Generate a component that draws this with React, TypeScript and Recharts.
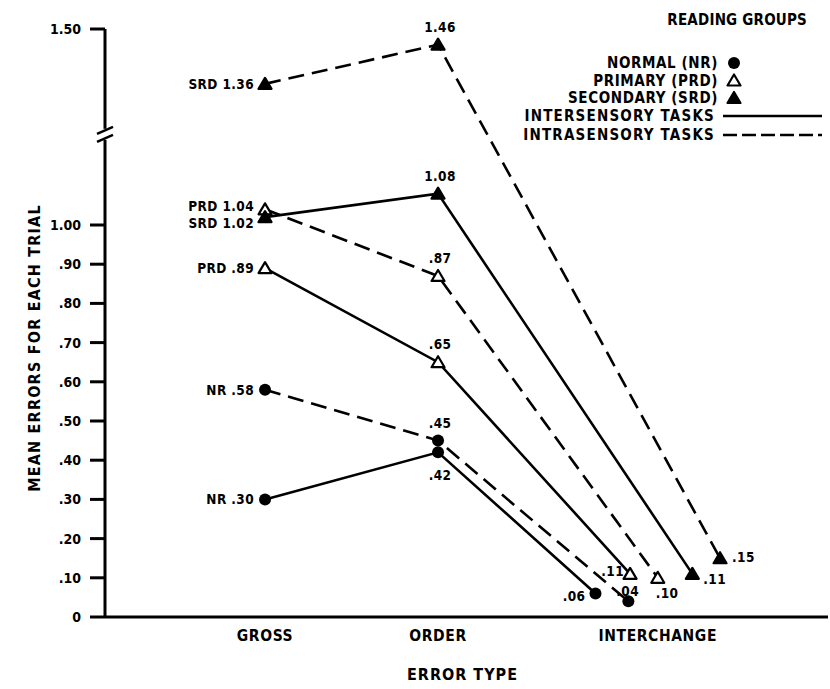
import { LineChart, Line, XAxis, YAxis, ReferenceDot, LabelList, Label } from 'recharts'

const FONT = "'DejaVu Sans Condensed', 'DejaVu Sans', sans-serif"

// error types along the x axis
const errorTypes = ['GROSS', 'ORDER', 'INTERCHANGE']

// mean errors per trial: GROSS, ORDER, INTERCHANGE
const nrInter = [0.3, 0.42, 0.06]
const nrIntra = [0.58, 0.45, 0.04]
const prdInter = [0.89, 0.65, 0.11]
const prdIntra = [1.04, 0.87, 0.1]
const srdInter = [1.02, 1.08, 0.11]
const srdIntra = [1.36, 1.46, 0.15]

// the interchange points are spread sideways in the original figure
const interchangeDodge = [-0.09, 0.1, 0.11, 0.27, 0.47, 0.63]

const yTicks = [0, 0.1, 0.2, 0.3, 0.4, 0.5, 0.6, 0.7, 0.8, 0.9, 1.0, 1.5]
const readingGroups = ['NORMAL (NR)', 'PRIMARY (PRD)', 'SECONDARY (SRD)']
const taskTypes = ['INTERSENSORY TASKS', 'INTRASENSORY TASKS']

const xDomain = [0.075, 4.254]
const xTicks = [1, 2, 3 + (Math.min(...interchangeDodge) + Math.max(...interchangeDodge)) / 2]

type Kind = 'circle' | 'open' | 'filled'
type Place = { anchor: 'start' | 'middle' | 'end'; dx: number; dy: number }

const left: Place = { anchor: 'end', dx: -11, dy: 5 }
const above: Place = { anchor: 'middle', dx: 2, dy: -13 }
const below: Place = { anchor: 'middle', dx: 2, dy: 28 }

const series: {
  key: string
  tag: string
  values: number[]
  kind: Kind
  dashed: boolean
  places: Place[]
}[] = [
  { key: 'nrInter', tag: 'NR', values: nrInter, kind: 'circle', dashed: false, places: [left, below, { anchor: 'end', dx: -10, dy: 8 }] },
  { key: 'nrIntra', tag: 'NR', values: nrIntra, kind: 'circle', dashed: true, places: [left, above, { anchor: 'start', dx: -12, dy: -5 }] },
  { key: 'prdInter', tag: 'PRD', values: prdInter, kind: 'open', dashed: false, places: [left, above, { anchor: 'end', dx: -6, dy: 2 }] },
  { key: 'prdIntra', tag: 'PRD', values: prdIntra, kind: 'open', dashed: true, places: [{ anchor: 'end', dx: -11, dy: 2 }, above, { anchor: 'start', dx: -2, dy: 20 }] },
  { key: 'srdInter', tag: 'SRD', values: srdInter, kind: 'filled', dashed: false, places: [{ anchor: 'end', dx: -11, dy: 11 }, above, { anchor: 'start', dx: 11, dy: 10 }] },
  { key: 'srdIntra', tag: 'SRD', values: srdIntra, kind: 'filled', dashed: true, places: [left, above, { anchor: 'start', dx: 12, dy: 4 }] },
]

const fmt = (v: number) => (v >= 1 ? v.toFixed(2) : v === 0 ? '0' : v.toFixed(2).slice(1))

function Marker({ cx, cy, kind }: { cx: number; cy: number; kind: Kind }) {
  if (cx == null || cy == null) return null
  if (kind === 'circle') return <circle cx={cx} cy={cy} r={6} fill="#000" />
  const pts = `${cx},${cy - 6} ${cx + 6.5},${cy + 5} ${cx - 6.5},${cy + 5}`
  return (
    <polygon
      points={pts}
      fill={kind === 'open' ? '#fff' : '#000'}
      stroke="#000"
      strokeWidth={2.2}
      strokeLinejoin="round"
    />
  )
}

function AxisBreak(props: any) {
  const { cx, cy } = props
  if (cx == null) return null
  return (
    <g>
      <rect x={cx - 5} y={cy - 6} width={10} height={11} fill="#fff" />
      <path d={`M${cx - 8},${cy - 1} L${cx + 8},${cy - 8}`} stroke="#000" strokeWidth={2.5} />
      <path d={`M${cx - 8},${cy + 7} L${cx + 8},${cy}`} stroke="#000" strokeWidth={2.5} />
    </g>
  )
}

function Legend() {
  const t = { fontFamily: FONT, fontWeight: 700, fontSize: 15, fill: '#000', letterSpacing: 0.6 }
  return (
    <svg width={830} height={160} style={{ position: 'absolute', left: 0, top: 0, pointerEvents: 'none' }}>
      <text x={807} y={25} textAnchor="end" {...t} fontSize={15} letterSpacing={0.2}>
        READING GROUPS
      </text>
      {readingGroups.map((g, i) => {
        const y = 63 + i * 17.5
        const kinds: Kind[] = ['circle', 'open', 'filled']
        return (
          <g key={g}>
            <text x={718} y={y + 5} textAnchor="end" {...t}>
              {g}
            </text>
            <Marker cx={734} cy={y} kind={kinds[i]} />
          </g>
        )
      })}
      {taskTypes.map((g, i) => {
        const y = 116 + i * 19
        return (
          <g key={g}>
            <text x={715} y={y + 5} textAnchor="end" {...t} letterSpacing={1.2}>
              {g}
            </text>
            <line
              x1={723}
              x2={822}
              y1={y}
              y2={y}
              stroke="#000"
              strokeWidth={2.5}
              strokeDasharray={i === 1 ? '14 5' : undefined}
            />
          </g>
        )
      })}
    </svg>
  )
}

export default function App() {
  const tickStyle = { fill: '#000', fontSize: 14, fontWeight: 700, fontFamily: FONT }
  return (
    <div style={{ position: 'absolute', left: 0, top: 0, width: 830, height: 689, background: '#fff' }}>
      <LineChart width={830} height={689} margin={{ top: 29, right: 2, bottom: 42, left: 45 }}>
        <XAxis
          type="number"
          dataKey="x"
          domain={xDomain}
          ticks={xTicks}
          interval={0}
          allowDataOverflow
          tickFormatter={(_v: number, i: number) => errorTypes[i]}
          axisLine={{ stroke: '#000', strokeWidth: 3 }}
          tickLine={false}
          tickSize={0}
          tickMargin={13}
          height={30}
          tick={{ ...tickStyle, fontSize: 15.5, letterSpacing: 0.6 }}
        >
          <Label
            value="ERROR TYPE"
            position="bottom"
            offset={22}
            style={{ fill: '#000', fontSize: 16, fontWeight: 700, fontFamily: FONT, letterSpacing: 1 }}
            dx={-4}
          />
        </XAxis>
        <YAxis
          type="number"
          domain={[0, 1.5]}
          ticks={yTicks}
          interval={0}
          width={60}
          tickSize={15}
          tickMargin={9}
          tickFormatter={fmt}
          axisLine={{ stroke: '#000', strokeWidth: 3 }}
          tickLine={{ stroke: '#000', strokeWidth: 3 }}
          tick={tickStyle}
        >
          <Label
            content={(p: any) => {
              const vb = p.viewBox
              const x = vb.x - 11
              const y = vb.y + vb.height / 2 + 25
              return (
                <text
                  x={x}
                  y={y}
                  transform={`rotate(-90 ${x} ${y})`}
                  textAnchor="middle"
                  dominantBaseline="central"
                  style={{ fill: '#000', fontSize: 16, fontWeight: 700, fontFamily: FONT, letterSpacing: 1.2 }}
                >
                  MEAN ERRORS FOR EACH TRIAL
                </text>
              )
            }}
          />
        </YAxis>
        <ReferenceDot x={xDomain[0]} y={1.23} ifOverflow="visible" shape={AxisBreak} />
        {series.map((s, si) => {
          const data = s.values.map((v, i) => ({
            x: i + 1 + (i === 2 ? interchangeDodge[si] : 0),
            y: v,
          }))
          return (
            <Line
              key={s.key}
              data={data}
              dataKey="y"
              type="linear"
              stroke="#000"
              strokeWidth={2.6}
              strokeDasharray={s.dashed ? '16 8' : undefined}
              isAnimationActive={false}
              activeDot={false}
              dot={(p: any) => <Marker key={`${s.key}-${p.index}`} cx={p.cx} cy={p.cy} kind={s.kind} />}
            >
              <LabelList
                dataKey="y"
                content={(p: any) => {
                  const pl = s.places[p.index]
                  const x = p.x ?? p.viewBox?.x
                  const y = p.y ?? p.viewBox?.y
                  const text = (p.index === 0 ? s.tag + ' ' : '') + fmt(p.value)
                  return (
                    <text
                      key={`${s.key}-l${p.index}`}
                      x={x + pl.dx}
                      y={y + pl.dy}
                      textAnchor={pl.anchor}
                      style={{ fill: '#000', fontSize: 13.5, fontWeight: 700, fontFamily: FONT, letterSpacing: 0.4 }}
                    >
                      {text}
                    </text>
                  )
                }}
              />
            </Line>
          )
        })}
      </LineChart>
      <Legend />
    </div>
  )
}
